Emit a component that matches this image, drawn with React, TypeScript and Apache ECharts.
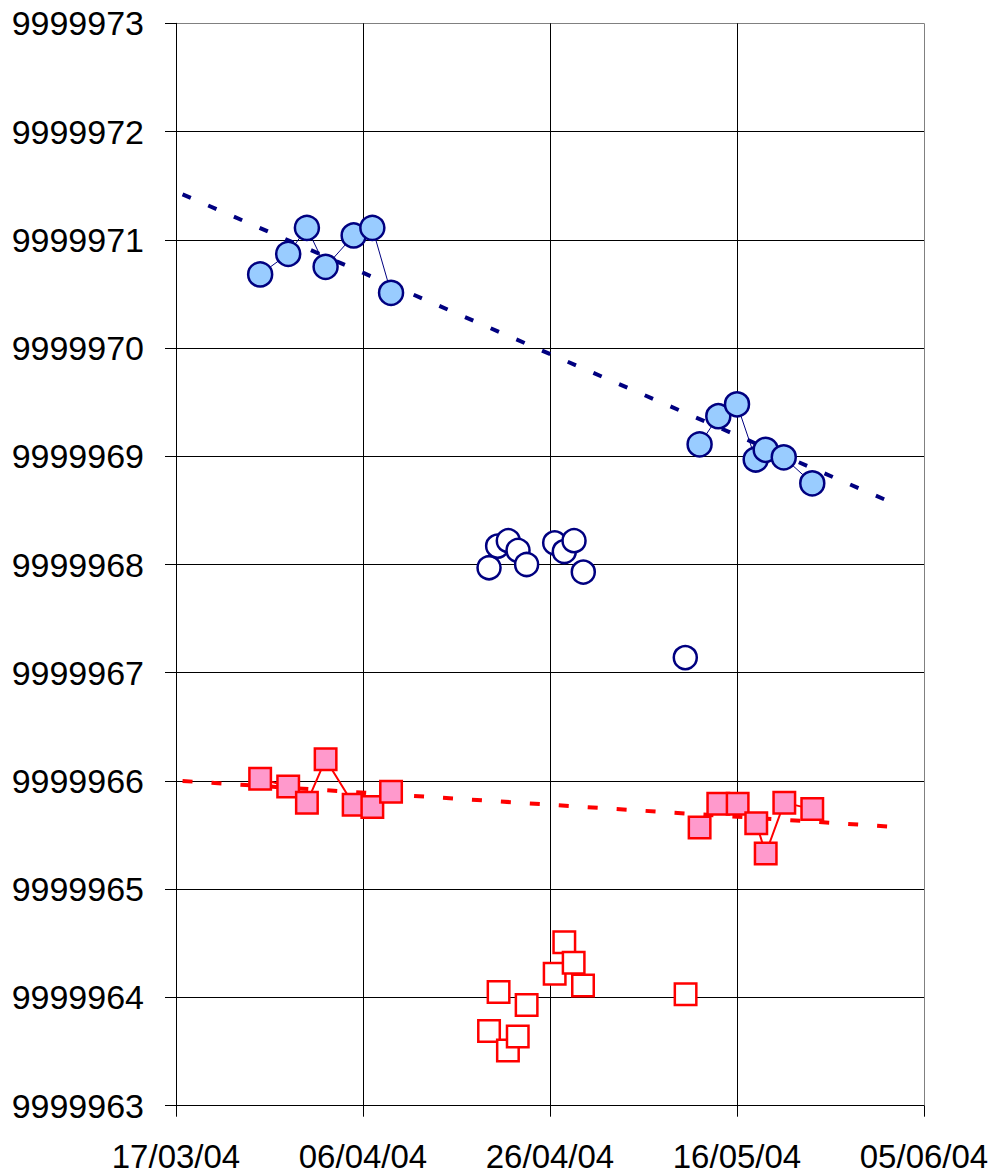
import React, { useEffect, useRef } from "react";
import * as echarts from "echarts";

// x values are days after 17/03/04
const START_UTC = Date.UTC(2004, 2, 17);
const xTickDays = [0, 20, 40, 60, 80];
const yTicks = [9999963, 9999964, 9999965, 9999966, 9999967, 9999968, 9999969, 9999970, 9999971, 9999972, 9999973];

// Blue filled circles (two connected runs)
const blueRun1Days = [9, 12, 14, 16, 19, 21, 23];
const blueRun1Values = [9999970.68, 9999970.87, 9999971.11, 9999970.75, 9999971.04, 9999971.11, 9999970.51];
const blueRun2Days = [56, 58, 60, 62, 63.07, 65, 68.05];
const blueRun2Values = [9999969.11, 9999969.37, 9999969.48, 9999968.97, 9999969.06, 9999968.99, 9999968.75];

// Blue hollow circles
const blueHollowDays = [33.48, 34.4, 35.54, 36.58, 37.5, 40.5, 41.53, 42.57, 43.56, 54.47];
const blueHollowValues = [9999967.97, 9999968.17, 9999968.22, 9999968.13, 9999968.0, 9999968.2, 9999968.12, 9999968.22, 9999967.93, 9999967.14];

// Pink filled squares (two connected runs)
const redRun1Days = [9, 12, 14, 16, 19, 21, 23];
const redRun1Values = [9999966.02, 9999965.95, 9999965.8, 9999966.2, 9999965.78, 9999965.76, 9999965.9];
const redRun2Days = [56, 58, 60.07, 62.06, 63.07, 65.06, 68.05];
const redRun2Values = [9999965.57, 9999965.79, 9999965.79, 9999965.61, 9999965.33, 9999965.8, 9999965.74];

// Red hollow squares
const redHollowDays = [34.5, 37.5, 33.48, 35.5, 36.55, 40.5, 41.53, 42.53, 43.53, 54.5];
const redHollowValues = [9999964.05, 9999963.93, 9999963.69, 9999963.51, 9999963.64, 9999964.22, 9999964.51, 9999964.32, 9999964.11, 9999964.03];

// Linear trend lines (start / end)
const blueTrendDays = [0.7, 76.6];
const blueTrendValues = [9999971.42, 9999968.57];
const redTrendDays = [0.7, 77.8];
const redTrendValues = [9999966.0, 9999965.57];

const zip = (xs: number[], ys: number[]) => xs.map((x, i) => [x, ys[i]]);
const pad = (n: number) => (n < 10 ? "0" : "") + n;
const fmtDay = (v: number) => {
  const d = new Date(START_UTC + Math.round(v) * 86400000);
  return `${pad(d.getUTCDate())}/${pad(d.getUTCMonth() + 1)}/${pad(d.getUTCFullYear() % 100)}`;
};

const NAVY = "#000080";
const RED = "#FF0000";
const FONT = "'Liberation Sans', Arial, sans-serif";

export default function App() {
  const ref = useRef<HTMLDivElement>(null);
  useEffect(() => {
    document.body.style.margin = "0";
    if (!ref.current) return;
    const chart = echarts.init(ref.current, undefined, { renderer: "svg" });
    const xColors = xTickDays.map((_, i) => (i === xTickDays.length - 1 ? "#808080" : "#000000"));
    const yColors = yTicks.map((_, i) => (i === yTicks.length - 1 ? "#808080" : "#000000"));
    const filledLine = (data: number[][], color: string, fill: string, symbol: string, size: number, lw: number) => ({
      type: "line",
      data,
      symbol,
      symbolSize: size,
      showSymbol: true,
      silent: true,
      lineStyle: { color, width: lw },
      itemStyle: { color: fill, borderColor: color, borderWidth: 2.5 },
      emphasis: { disabled: true },
      z: 3,
    });
    const hollow = (data: number[][], color: string, symbol: string, size: number) => ({
      type: "scatter",
      data,
      symbol,
      symbolSize: size,
      silent: true,
      itemStyle: { color: "#FFFFFF", borderColor: color, borderWidth: 2.5, opacity: 1 },
      emphasis: { disabled: true },
      z: 3,
    });
    const trend = (data: number[][], color: string, dash: number[]) => ({
      type: "line",
      data,
      symbol: "none",
      silent: true,
      lineStyle: { color, width: 4, type: dash, cap: "butt" },
      emphasis: { disabled: true },
      z: 2,
    });
    chart.setOption({
      animation: false,
      backgroundColor: "#FFFFFF",
      grid: { left: 176, right: 70, top: 23.3, bottom: 69.3, containLabel: false },
      xAxis: {
        type: "value",
        min: 0,
        max: 80,
        interval: 20,
        axisLine: { show: true, onZero: false, lineStyle: { color: "#000000", width: 1 } },
        axisTick: { show: true, inside: false, length: 11, lineStyle: { color: "#000000" } },
        axisLabel: {
          formatter: (v: number) => fmtDay(v),
          fontSize: 33,
          fontFamily: FONT,
          color: "#000000",
          margin: 34,
          showMinLabel: true,
          showMaxLabel: true,
          hideOverlap: false,
        },
        splitLine: { show: true, lineStyle: { color: xColors, width: 1 } },
      },
      yAxis: {
        type: "value",
        min: 9999963,
        max: 9999973,
        interval: 1,
        axisLine: { show: true, onZero: false, lineStyle: { color: "#000000", width: 1 } },
        axisTick: { show: true, inside: false, length: 11, lineStyle: { color: "#000000" } },
        axisLabel: {
          formatter: (v: number) => String(Math.round(v)),
          fontSize: 34,
          fontFamily: FONT,
          color: "#000000",
          margin: 32,
          showMinLabel: true,
          showMaxLabel: true,
          hideOverlap: false,
        },
        splitLine: { show: true, lineStyle: { color: yColors, width: 1 } },
      },
      series: [
        trend(zip(blueTrendDays, blueTrendValues), NAVY, [9, 19]),
        trend(zip(redTrendDays, redTrendValues), RED, [10, 19]),
        hollow(zip(blueHollowDays, blueHollowValues), NAVY, "circle", 23),
        hollow(zip(redHollowDays, redHollowValues), RED, "rect", 21.5),
        filledLine(zip(blueRun1Days, blueRun1Values), NAVY, "#99CCFF", "circle", 24, 1),
        filledLine(zip(blueRun2Days, blueRun2Values), NAVY, "#99CCFF", "circle", 24, 1),
        filledLine(zip(redRun1Days, redRun1Values), RED, "#FF99CC", "rect", 21.5, 2),
        filledLine(zip(redRun2Days, redRun2Values), RED, "#FF99CC", "rect", 21.5, 2),
      ],
    });
    return () => chart.dispose();
  }, []);
  return <div ref={ref} style={{ width: 994, height: 1175 }} />;
}
